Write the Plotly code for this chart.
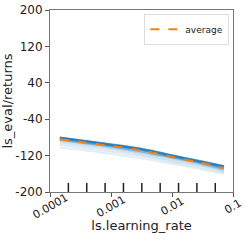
import math
import plotly.graph_objects as go

# data
lr = [1.45e-4, 3.2e-4, 1e-3, 3.2e-3, 1e-2, 3.2e-2, 7.1e-2]
average = [-84, -90, -99, -109, -123, -137, -148]
samples = [
    [-80, -86, -95, -105, -119, -133, -143],
    [-81, -87, -96, -106, -120, -134, -144],
    [-82, -88, -97, -107, -121, -135, -145],
    [-83, -89, -98, -108, -122, -136, -147],
    [-85, -91, -100, -111, -124, -138, -149],
    [-87, -93, -102, -113, -126, -140, -151],
    [-91, -97, -106, -117, -130, -143, -154],
    [-96, -102, -111, -121, -134, -147, -157],
    [-102, -107, -116, -126, -138, -151, -160],
]
rug_lr = [2e-4, 4e-4, 8e-4, 1.6e-3, 3.2e-3, 6.4e-3, 1.28e-2, 2.56e-2, 5.12e-2]
x_tick_vals = [1e-4, 1e-3, 1e-2, 1e-1]
x_tick_text = ["0.0001", "0.001", "0.01", "0.1"]
y_tick_vals = [200, 120, 40, -40, -120, -200]
y_tick_text = ["200", "120", "40", "-40", "-120", "-200"]
y_range = [-200, 200]
rug_top = -180

sample_alpha = [0.65, 0.6, 0.55, 0.45, 0.4, 0.3, 0.2, 0.15, 0.12]

fig = go.Figure()
for s, a in zip(samples, sample_alpha):
    fig.add_trace(go.Scatter(x=lr, y=s, mode="lines", showlegend=False,
                             line=dict(color=f"rgba(31,119,180,{a})", width=2, shape="spline"),
                             hoverinfo="skip"))

fig.add_trace(go.Scatter(x=lr, y=average, mode="lines", name="average",
                         line=dict(color="#ff7f0e", width=2, dash="dash", shape="spline")))

rx, ry = [], []
for v in rug_lr:
    rx += [v, v, None]
    ry += [y_range[0], rug_top, None]
fig.add_trace(go.Scatter(x=rx, y=ry, mode="lines", showlegend=False,
                         line=dict(color="#222", width=1.5), hoverinfo="skip"))

for v, t in zip(x_tick_vals, x_tick_text):
    fig.add_annotation(x=math.log10(v), y=0, xref="x", yref="paper", yshift=-14, xshift=0,
                       text=t, textangle=-30, showarrow=False, xanchor="center", yanchor="middle",
                       font=dict(family="DejaVu Sans", size=11, color="#222"))

fig.update_layout(
    width=249, height=247,
    margin=dict(l=50, r=16, t=10, b=55),
    paper_bgcolor="white", plot_bgcolor="white",
    font=dict(family="DejaVu Sans", size=11, color="#222"),
    showlegend=True,
    legend=dict(x=0.98, y=0.98, xanchor="right", yanchor="top",
                bgcolor="white", bordercolor="#ddd", borderwidth=1,
                font=dict(size=9), itemwidth=30, tracegroupgap=0),
    xaxis=dict(type="log", range=[-4, -1], tickvals=x_tick_vals, ticktext=[""] * 4,
               ticks="outside", ticklen=4, tickcolor="#555", showgrid=False, zeroline=False,
               showline=True, linecolor="#777", linewidth=1, mirror=True, automargin=False,
               title=dict(text="ls.learning_rate", font=dict(size=13), standoff=22)),
    yaxis=dict(range=y_range, tickvals=y_tick_vals, ticktext=y_tick_text, ticks="outside",
               ticklen=4, tickcolor="#555", automargin=False,
               showgrid=False, zeroline=False, showline=True, linecolor="#777", linewidth=1, mirror=True,
               tickfont=dict(size=12),
               title=dict(text="ls_eval/returns", font=dict(size=13), standoff=4)),
)
fig.write_html("out.html", config={"displayModeBar": False},
               post_script="document.body.style.margin='0';")
